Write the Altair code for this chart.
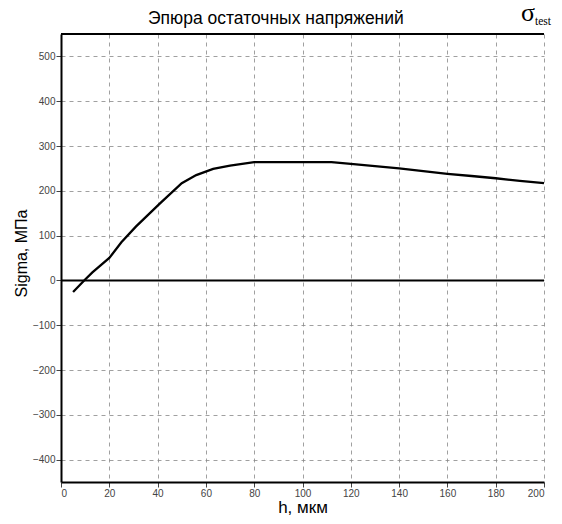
import altair as alt
import pandas as pd

h = [5, 10, 13, 20, 25, 31, 41, 50, 56, 63, 70, 80, 90, 100, 112, 120, 130, 140, 150, 160, 170, 180, 190, 200]
sigma = [-26, 2, 18, 50, 85, 120, 172, 217, 235, 249, 256, 264, 264, 264, 264, 260, 255, 250, 244, 238, 233, 228, 222, 217]

x_ticks = list(range(0, 201, 20))
y_ticks = list(range(-400, 501, 100))

title_text = ["Эпюра остаточных напряжений"]
sigma_symbol = ["σ"]
sigma_sub = ["test"]

df = pd.DataFrame({"h": h, "sigma": sigma})

W, H = 483, 448

xs = alt.Scale(domain=[0, 200], nice=False, zero=False)
ys = alt.Scale(domain=[-450, 550], nice=False, zero=False)

common = dict(grid=True, gridDash=[4, 4], gridColor="#888", gridWidth=0.8,
              domainColor="black", domainWidth=2,
              tickColor="#444", tickSize=5, labelColor="#444",
              labelFont="Liberation Sans", labelFontSize=10,
              titleFont="Liberation Sans", titleFontWeight="normal", titleColor="black")

line = alt.Chart(df).mark_line(color="black", strokeWidth=2.3).encode(
    x=alt.X("h:Q", scale=xs, title="h, мкм",
            axis=alt.Axis(values=x_ticks, labelPadding=1, titleFontSize=17,
                          titleY=30, titleBaseline="alphabetic", **common)),
    y=alt.Y("sigma:Q", scale=ys, title="Sigma, МПа",
            axis=alt.Axis(values=y_ticks, labelPadding=1, titleFontSize=16,
                          titleX=-32, titleY=219, **common)),
)

zero = alt.Chart(pd.DataFrame({"z": [0]})).mark_rule(color="black", strokeWidth=2).encode(
    y=alt.Y("z:Q", scale=ys)
)

topline = alt.Chart(pd.DataFrame({"z": [0]})).mark_rule(color="black", strokeWidth=2).encode(
    x=alt.value(0), x2=alt.value(W), y=alt.value(0)
)

title = alt.Chart(pd.DataFrame({"t": title_text})).mark_text(
    font="Liberation Sans", fontSize=17.5, align="left", baseline="alphabetic", color="black"
).encode(x=alt.value(87), y=alt.value(-10), text="t:N")

sig = alt.Chart(pd.DataFrame({"t": sigma_symbol})).mark_text(
    font="Liberation Serif", fontSize=26, align="right", baseline="alphabetic", color="black"
).encode(x=alt.value(W - 9), y=alt.value(-13), text="t:N")

sub = alt.Chart(pd.DataFrame({"t": sigma_sub})).mark_text(
    font="Liberation Serif", fontSize=11.5, align="left", baseline="alphabetic", color="black"
).encode(x=alt.value(W - 9), y=alt.value(-9), text="t:N")

chart = alt.layer(line, zero, topline, title, sig, sub).properties(
    width=W, height=H,
    autosize=alt.AutoSizeParams(type="none"),
    padding={"left": 53, "top": 26, "right": 10, "bottom": 34},
).configure_view(stroke=None)

chart.save("out.html", embed_options={"renderer": "svg", "actions": False})
